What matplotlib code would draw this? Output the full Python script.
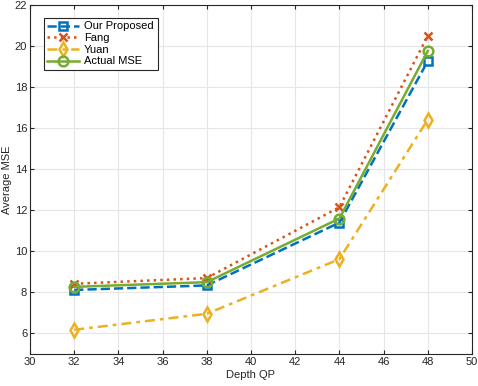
import matplotlib.pyplot as plt

qp = [32, 38, 44, 48]
proposed = [8.12, 8.34, 11.4, 19.27]
fang = [8.42, 8.7, 12.15, 20.5]
yuan = [6.18, 6.96, 9.62, 16.42]
actual = [8.27, 8.5, 11.6, 19.76]

plt.rcParams['font.family'] = ['Liberation Sans', 'DejaVu Sans']
plt.rcParams['font.size'] = 8

fig = plt.figure(figsize=(4.78, 3.86), dpi=100)
ax = fig.add_axes([30/478, 32/386, 442/478, 349/386])

ax.plot(qp, proposed, '--s', color='#0072BD', lw=1.8, ms=5.5, mfc='none', mew=1.8, label='Our Proposed')
ax.plot(qp, fang, ':x', color='#D95319', lw=1.8, ms=5.5, mew=1.8, label='Fang')
ax.plot(qp, yuan, '-.d', color='#EDB120', lw=1.8, ms=7, mfc='none', mew=1.8, label='Yuan', dashes=(4, 2, 1.5, 2))
ax.plot(qp, actual, '-o', color='#77AC30', lw=1.8, ms=7, mfc='none', mew=1.8, label='Actual MSE')

ax.set_xlim(30, 50)
ax.set_ylim(5, 22)
ax.set_xticks(range(30, 51, 2))
ax.set_yticks(range(6, 23, 2))
ax.grid(True, color='#e6e6e6', lw=0.8)
ax.set_axisbelow(True)
for s in ax.spines.values():
    s.set_color('#262626')
    s.set_linewidth(0.8)
ax.tick_params(direction='in', length=3, pad=2, colors='#262626', top=True, right=True)
ax.set_xlabel('Depth QP', color='#262626', labelpad=2)
ax.set_ylabel('Average MSE', color='#262626', labelpad=2)

leg = ax.legend(loc='upper left', bbox_to_anchor=(0.018, 0.98), fancybox=False,
                edgecolor='#262626', framealpha=1, handlelength=2.8, borderpad=0.35,
                labelspacing=0.15, handletextpad=0.5, fontsize=8)
leg.get_frame().set_linewidth(0.8)

plt.savefig('out.png')
